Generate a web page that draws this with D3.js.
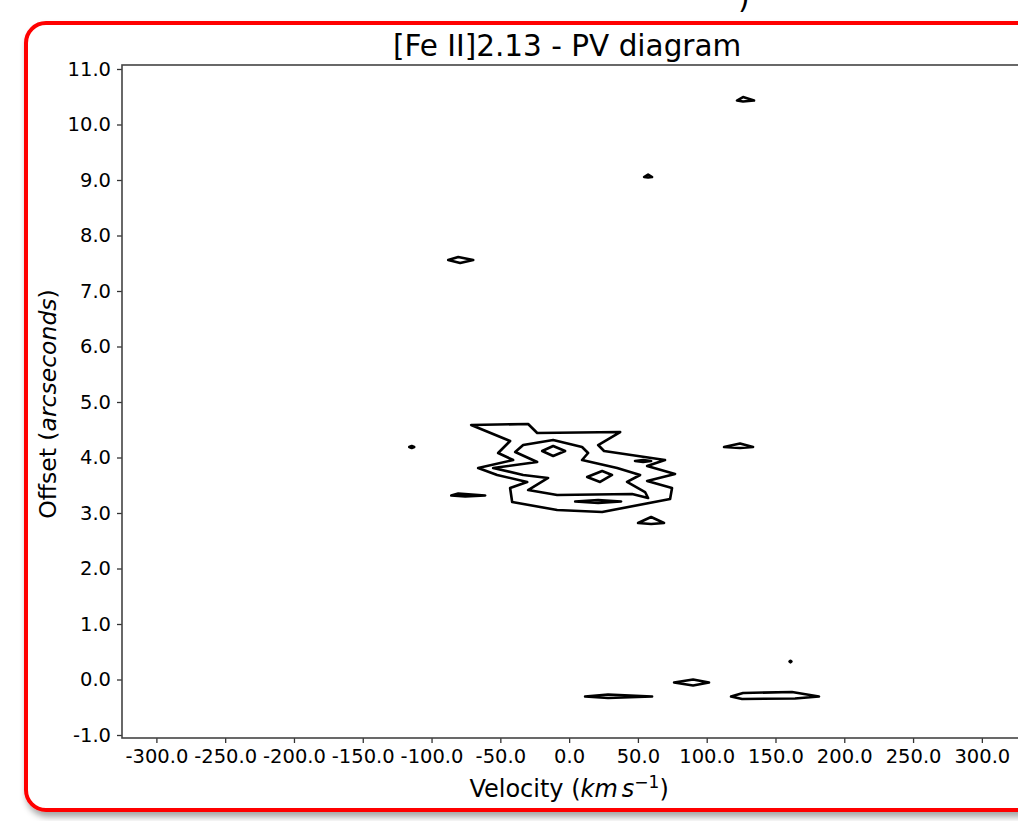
<!DOCTYPE html>
<html>
<head>
<meta charset="utf-8">
<script src="https://cdn.jsdelivr.net/npm/d3@7"></script>
<style>
  html, body { margin: 0; padding: 0; background: #ffffff; }
  svg { display: block; }
  text { font-family: "DejaVu Sans", sans-serif; fill: #000; }
</style>
</head>
<body>
<div id="chart"></div>
<script>
// ---------------- data ----------------
const chartTitle = "[Fe II]2.13 - PV diagram";
const xTicks = [-300, -250, -200, -150, -100, -50, 0, 50, 100, 150, 200, 250, 300];
const yTicks = [-1, 0, 1, 2, 3, 4, 5, 6, 7, 8, 9, 10, 11];
const xDomain = [-325, 327];
const yDomain = [-1.054, 11.072];

// contour level 1 (outer envelope of the central emission) [velocity, offset]
const contourOuter = [
  [-71.2, 4.586], [-29.8, 4.604], [-23.2, 4.441], [37.1, 4.459], [21.1, 4.225],
  [25.4, 4.117], [69.7, 3.955], [56.7, 3.847], [77.0, 3.703], [56.7, 3.577],
  [74.8, 3.450], [73.4, 3.252], [24.0, 3.018], [-8.7, 3.054], [-41.4, 3.198],
  [-42.9, 3.450], [-30.5, 3.559], [-52.3, 3.685], [-66.1, 3.811], [-40.7, 3.955],
  [-51.6, 4.081], [-42.9, 4.297]
];
// contour level 2 (inner envelope)
const contourMiddle = [
  [-39.2, 4.099], [-33.4, 4.225], [-11.6, 4.315], [9.4, 4.189], [13.8, 4.081],
  [9.4, 3.955], [34.9, 3.811], [51.6, 3.685], [42.1, 3.559], [55.2, 3.378],
  [57.4, 3.270], [45.8, 3.342], [-8.7, 3.324], [-29.8, 3.414], [-15.3, 3.631],
  [-33.4, 3.685], [-55.2, 3.811], [-23.2, 3.919]
];
// small isolated contours (peaks)
const contourPeaks = [
  [[-19.6, 4.117], [-11.6, 4.207], [-2.9, 4.117], [-11.6, 4.027]],
  [[13.1, 3.649], [24.0, 3.757], [31.2, 3.685], [22.5, 3.559]],
  [[4.4, 3.207], [21.1, 3.234], [37.8, 3.207], [21.1, 3.180]],
  [[47.9, 3.937], [53.8, 3.955], [59.6, 3.937], [53.8, 3.919]],
  [[50.1, 2.820], [59.6, 2.928], [69.0, 2.820], [59.6, 2.802]],
  [[122.0, 10.432], [126.4, 10.495], [134.4, 10.432], [126.4, 10.414]],
  [[54.5, 9.054], [57.4, 9.099], [60.3, 9.054], [57.4, 9.045]],
  [[-87.9, 7.559], [-80.6, 7.613], [-69.7, 7.559], [-79.2, 7.505]],
  [[-116.2, 4.189], [-114.4, 4.207], [-112.6, 4.189], [-114.4, 4.171]],
  [[-85.7, 3.315], [-80.6, 3.351], [-61.0, 3.315], [-75.5, 3.297]],
  [[112.6, 4.189], [124.2, 4.252], [133.7, 4.189], [124.2, 4.171]],
  [[11.6, -0.306], [28.3, -0.270], [60.3, -0.306], [28.3, -0.333]],
  [[76.3, -0.054], [90.1, 0.000], [101.7, -0.054], [90.1, -0.108]],
  [[117.7, -0.306], [126.4, -0.243], [162.0, -0.225], [181.6, -0.306], [164.2, -0.342], [125.7, -0.351]],
  [[160.2, 0.324], [160.9, 0.338], [161.6, 0.324], [160.9, 0.310]]
];

// ---------------- drawing ----------------
const W = 1018, H = 821;
const plot = { left: 122, right: 1019, top: 65, bottom: 738 };

const svg = d3.select("#chart").append("svg")
  .attr("width", W).attr("height", H);

const defs = svg.append("defs");
const filt = defs.append("filter").attr("id", "shadow")
  .attr("x", "-5%").attr("y", "-5%").attr("width", "115%").attr("height", "115%");
filt.append("feDropShadow").attr("dx", 2).attr("dy", 5)
  .attr("stdDeviation", 3).attr("flood-color", "#000").attr("flood-opacity", 0.35);

// frame (red rounded border with shadow)
svg.append("rect")
  .attr("x", 26).attr("y", 23).attr("width", 1040).attr("height", 787)
  .attr("rx", 20).attr("ry", 20)
  .attr("fill", "#fff").attr("stroke", "#ff0000").attr("stroke-width", 4)
  .attr("filter", "url(#shadow)");

// partial glyph from text above the frame
svg.append("text").attr("x", 738).attr("y", 8)
  .style("font-size", "30px").text(")");

const x = d3.scaleLinear().domain(xDomain).range([plot.left, plot.right]);
const y = d3.scaleLinear().domain(yDomain).range([plot.bottom, plot.top]);

// title
svg.append("text")
  .attr("x", x(0) - 2).attr("y", 56)
  .attr("text-anchor", "middle")
  .style("font-size", "29.5px")
  .text(chartTitle);

// contours
const g = svg.append("g");
const line = d3.line().x(d => x(d[0])).y(d => y(d[1])).curve(d3.curveLinearClosed);
const allContours = [contourOuter, contourMiddle, ...contourPeaks];
g.selectAll("path.contour").data(allContours).enter().append("path")
  .attr("class", "contour")
  .attr("d", line)
  .attr("fill", "none")
  .attr("stroke", "#000")
  .attr("stroke-width", 2.6)
  .attr("stroke-linejoin", "round");

// axes
const xAxis = d3.axisBottom(x).tickValues(xTicks).tickSize(5).tickPadding(6)
  .tickFormat(d => d.toFixed(1));
const yAxis = d3.axisLeft(y).tickValues(yTicks).tickSize(5).tickPadding(6)
  .tickFormat(d => d.toFixed(1));

const gx = svg.append("g").attr("transform", `translate(0,${plot.bottom})`).call(xAxis);
const gy = svg.append("g").attr("transform", `translate(${plot.left},0)`).call(yAxis);

[gx, gy].forEach(a => {
  a.select(".domain").remove();
  a.selectAll(".tick line").attr("stroke", "#333").attr("stroke-width", 1.3);
  a.selectAll(".tick text").style("font-size", "19.5px")
    .style("font-family", "'DejaVu Sans', sans-serif").attr("fill", "#000");
});
gx.selectAll(".tick text").attr("dy", "0.71em");

// spines
svg.append("rect")
  .attr("x", plot.left).attr("y", plot.top)
  .attr("width", plot.right - plot.left).attr("height", plot.bottom - plot.top)
  .attr("fill", "none").attr("stroke", "#444").attr("stroke-width", 1.6);

// axis labels
const xl = svg.append("text")
  .attr("x", x(0)).attr("y", 797)
  .attr("text-anchor", "middle")
  .style("font-size", "24px");
xl.append("tspan").text("Velocity (");
xl.append("tspan").style("font-style", "italic").text("km");
xl.append("tspan").style("font-style", "italic").attr("dx", 4).text("s");
xl.append("tspan").attr("dy", -9).style("font-size", "17px").text("\u22121");
xl.append("tspan").attr("dy", 9).text(")");

const yl = svg.append("text")
  .attr("transform", `translate(56,404) rotate(-90)`)
  .attr("text-anchor", "middle")
  .style("font-size", "23.5px");
yl.append("tspan").text("Offset (");
yl.append("tspan").style("font-style", "italic").text("arcseconds");
yl.append("tspan").text(")");
</script>
</body>
</html>
